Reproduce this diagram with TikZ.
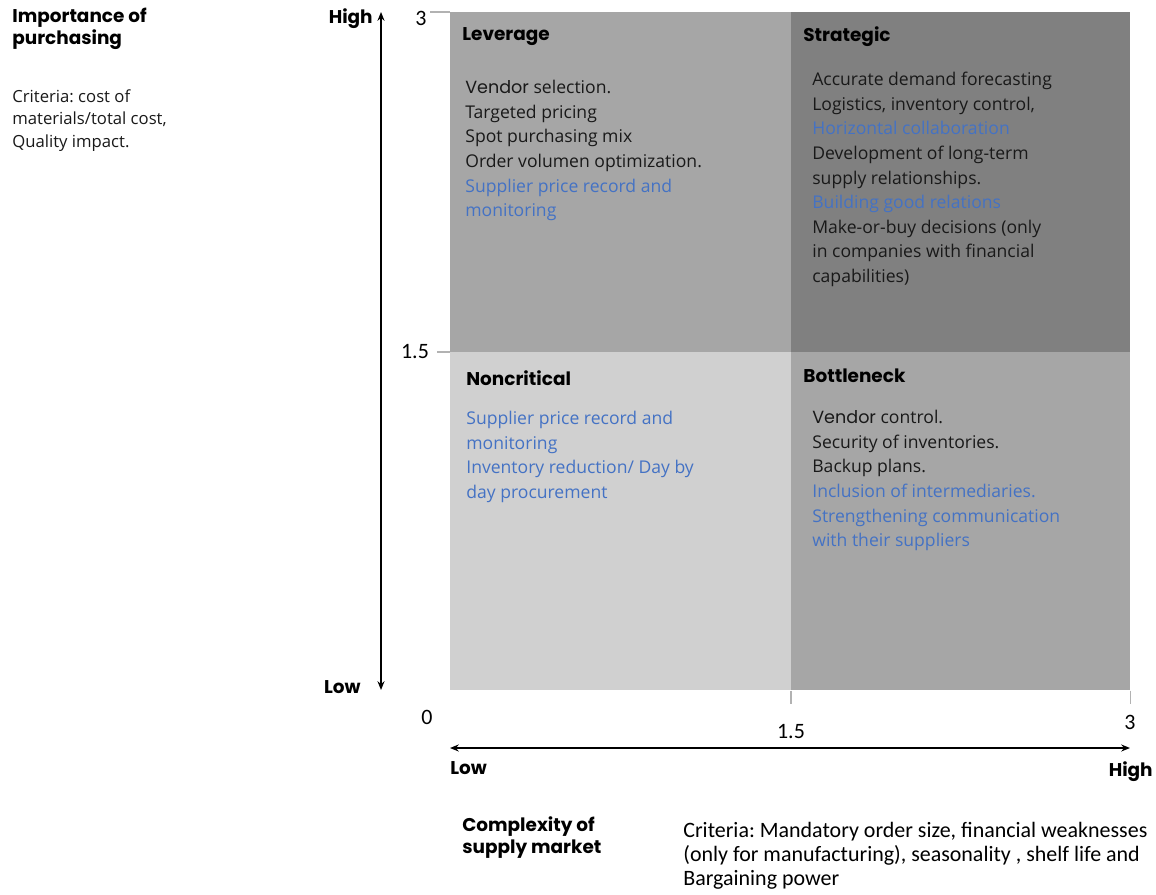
\documentclass[tikz,border=0pt]{standalone}
\usepackage{fontspec}
\setmainfont{Open Sans}
\newfontfamily\headfont{Poppins}
\newfontfamily\critfont{Carlito}
\usetikzlibrary{arrows.meta}
\definecolor{levgray}{HTML}{A6A6A6}
\definecolor{stratgray}{HTML}{808080}
\definecolor{noncritgray}{HTML}{D0D0D0}
\definecolor{itemblue}{HTML}{4472C4}
\newcommand{\bluetxt}[1]{\textcolor{itemblue}{#1}}
\frenchspacing

\begin{document}
\begin{tikzpicture}[x=0.02cm, y=-0.02cm,
quad/.style={draw=none, inner sep=0, anchor=north west}, % my basic quadrant box
levbox/.style={quad, fill=levgray, minimum width=6.82cm, minimum height=6.8cm}, % leverage items
stratbox/.style={quad, fill=stratgray, minimum width=6.78cm, minimum height=6.8cm}, % strategic items
noncritbox/.style={quad, fill=noncritgray, minimum width=6.82cm, minimum height=6.76cm}, % noncritical items
bottlebox/.style={quad, fill=levgray, minimum width=6.78cm, minimum height=6.76cm}, % bottleneck items
title/.style={font=\headfont\bfseries\fontsize{10.5}{12.5}\selectfont, inner sep=0}, % bold headings
items/.style={font=\fontsize{10}{14}\selectfont, align=left, anchor=north west, inner sep=0, text=black!90}, % quadrant lists
crit/.style={font=\critfont\fontsize{12.5}{13.6}\selectfont, inner sep=0}, % criteria and axis numbers
tick/.style={draw=gray!60, line width=0.6pt}, % axis ticks
axis/.style={draw=black, {Stealth[length=5pt,width=4pt]}-{Stealth[length=5pt,width=4pt]}} % axis arrows
]

\useasboundingbox (0,0) rectangle (1156,895);

% quadrants
\node[levbox] (lev) at (450,12) {};
\node[stratbox] (strat) at (791,12) {};
\node[noncritbox] (noncrit) at (450,352) {};
\node[bottlebox] (bottle) at (791,352) {};

% quadrant texts
\node[title, anchor=west] (levtitle) at (462,37) {Leverage};
\node[items] (levitems) at (465,80) {{\headfont Vendor} selection.\\Targeted pricing\\Spot purchasing mix\\Order volumen optimization.\\\bluetxt{Supplier price record and}\\\bluetxt{monitoring}};

\node[title, anchor=west] (strattitle) at (803,37) {Strategic};
\node[items] (stratitems) at (812,72) {Accurate demand forecasting\\Logistics, inventory control,\\\bluetxt{Horizontal collaboration}\\Development of long-term\\supply relationships.\\\bluetxt{Building good relations}\\Make-or-buy decisions (only\\in companies with financial\\capabilities)};

\node[title, anchor=west] (noncrittitle) at (466,378) {Noncritical};
\node[items, text=itemblue] (noncrititems) at (466,411) {Supplier price record and\\monitoring\\Inventory reduction/ Day by\\day procurement};

\node[title, anchor=west] (bottletitle) at (803,376) {Bottleneck};
\node[items] (bottleitems) at (812,410) {{\headfont Vendor} control.\\Security of inventories.\\Backup plans.\\\bluetxt{Inclusion of intermediaries.}\\\bluetxt{Strengthening communication}\\\bluetxt{with their suppliers}};

% vertical axis
\coordinate (ytop) at (381,12);
\coordinate (ybot) at (381,690);
\draw[axis, line width=1.1pt] (ybot) -- (ytop);
\node[title, anchor=east] (yhigh) at (373,19) {High};
\node[title, anchor=east] (ylow) at (361,687) {Low};
\draw[tick] (430,12) -- (lev.north west);
\draw[tick] (437,352) -- (noncrit.north west);
\node[crit] (ythree) at (421,18) {3};
\node[crit] (ymid) at (415,352) {1.5};

% horizontal axis
\coordinate (xleft) at (450,748);
\coordinate (xright) at (1130,748);
\draw[axis, line width=1.7pt] (xleft) -- (xright);
\node[title, anchor=west] (xlow) at (450,768) {Low};
\node[title, anchor=east] (xhigh) at (1153,772) {High};
\draw[tick] (bottle.south west) -- ++(0,13);
\draw[tick] (bottle.south east) -- ++(0,13);
\node[crit] (xzero) at (427,717) {0};
\node[crit] (xmid) at (791,732) {1.5};
\node[crit] (xthree) at (1130,722) {3};

% axis captions
\node[title, align=left, anchor=north west] (ycap) at (12,8) {Importance of\\purchasing};
\node[items, font=\fontsize{9.5}{13}\selectfont] (ycrit) at (12,89) {Criteria: cost of\\materials/total cost,\\Quality impact.};
\node[title, align=left, anchor=north west] (xcap) at (462,816) {Complexity of\\supply market};
\node[crit, align=left, anchor=north west] (xcrit) at (683,822) {Criteria: Mandatory order size, financial weaknesses\\(only for manufacturing), seasonality , shelf life and\\Bargaining power};

\end{tikzpicture}
\end{document}
